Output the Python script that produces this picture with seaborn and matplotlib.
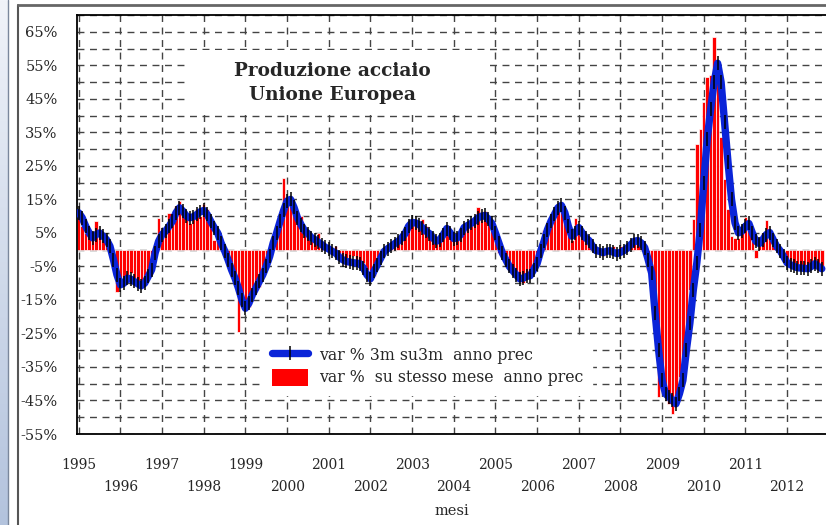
import numpy as np
import pandas as pd
import matplotlib
matplotlib.use("Agg")
import matplotlib.pyplot as plt
import seaborn as sns
from matplotlib.lines import Line2D
from matplotlib.patches import Patch, Rectangle
from matplotlib.ticker import MultipleLocator, FuncFormatter
from matplotlib.colors import LinearSegmentedColormap

# anni sull'asse x (un tick ogni 12 mesi, gen 1995 - nov 2012)
years = list(range(1995, 2013))

# var % su stesso mese anno prec (barre rosse), un valore per mese
red_yoy = [
    10, 7, 5, 5, 3, 8.5, 5, 3, 2, 0.5, -4, -12.5,                     # 1995
    -9, -10, -8, -7, -9, -10.5, -11, -9, -7, -3, 1.2, 9.5,            # 1996
    5, 5, 11, 10, 13, 14.5, 12, 11, 8, 11, 12, 10,                     # 1997
    13.5, 12, 7, 3, 3, 2, -1, -4, -6, -8, -24.5, -14,                  # 1998
    -18, -17, -13, -11, -11, -8, -5, -3, 1, 4, 10, 21.5,               # 1999
    14, 16, 12, 8, 10, 6, 5, 4, 3, 5, 2, 1,                            # 2000
    0.5, -1, 1, -2, -3, -4.5, -3, -2, -3, -5, -4, -6,                  # 2001
    -9.5, -8, -4, -3, 0.5, 1, 2, 1.5, 3, 3.5, 5, 6,                    # 2002
    9, 8, 7, 9, 7, 4, 3, 2.5, 4, 6, 7.5, 3.5,                          # 2003
    3, 4.5, 6, 7.5, 8, 7, 9, 12.6, 10, 11.5, 9, 5.5,                   # 2004
    3, -1, -2, -4, -6, -7.5, -8, -9.5, -10, -8, -8.5, -5,              # 2005
    -2, 2, 6, 7, 9.5, 11, 13.5, 12, 10, 5, 3, 9.5,                     # 2006
    7, 6, 3, 2, 0, 0.5, -1, -2, 0.5, -0.5, 1, -1.5,                    # 2007
    1, -1, 1.5, 2, 3.5, 3, 1, -0.5, -6, -10, -20, -44,                 # 2008
    -40, -43, -46, -49, -45, -38, -32, -25, -12, 9, 31.5, 36,          # 2009
    44, 51.5, 52, 63.5, 54.5, 33.5, 21, 12, 4, 3.6, 3.6, 5,            # 2010
    9.6, 7, 5.7, -2.4, 3, 5, 8.7, 5, 2.7, 1, -1.2, -3,                 # 2011
    -4, -3.5, -5, -6, -5, -6.5, -6, -4, -4.5, -6.5, -5,                # 2012
]

# var % 3m su 3m anno prec (linea blu)
blue_3m = [
    11, 9.5, 7, 5, 3.5, 4.5, 5, 4, 3, 1, -3, -7.5,                     # 1995
    -10.5, -10, -8.5, -8.8, -9.5, -10.2, -10.8, -10, -8, -6, -1, 2.5,  # 1996
    4.5, 5.5, 7, 8.5, 11, 12.5, 11.5, 10, 9.5, 9.8, 10.5, 11.3,        # 1997
    11.7, 10.5, 8.5, 6.6, 5, 2, -0.3, -3, -6, -8.5, -11.5, -15,        # 1998
    -17.5, -16, -13.5, -11.5, -9.5, -7.5, -5, -2, 2, 5, 8.5, 11.7,     # 1999
    14.5, 15, 12.6, 9.5, 7.5, 5.7, 4.8, 3.6, 3, 2.2, 1.5, 0.7,         # 2000
    0.2, -0.5, -1, -2.2, -3, -3.5, -3.7, -3.9, -4, -4.2, -5.5, -7.5,   # 2001
    -8.7, -6.5, -4.5, -2.5, -0.5, 0.3, 1, 1.8, 2.5, 3.5, 4.8, 7,       # 2002
    8.1, 8, 7.5, 6.5, 5.5, 4.8, 3.5, 2.5, 3, 4.5, 6.3, 5,              # 2003
    3.3, 3.5, 4.5, 6.6, 7.2, 7.8, 8.5, 9.5, 10, 10.2, 9, 7.8,          # 2004
    5, 2, -1, -3, -5, -6.3, -7.5, -8.7, -8.5, -8, -7.8, -6,            # 2005
    -4.2, -0.5, 2.5, 6, 8.5, 10.5, 12.5, 13.2, 11, 7, 4, 5,            # 2006
    6.6, 5, 3.5, 2.7, 1, -0.3, -0.5, -0.9, -0.5, -0.3, -0.8, -1.2,     # 2007
    -0.8, -0.3, 0.5, 1.5, 2.5, 2.7, 2, 0.6, -3, -7, -19, -30,          # 2008
    -39, -43, -44, -45, -46, -43, -39, -30, -22, -12, -4, 6,           # 2009
    20, 33, 42, 50, 55.6, 50, 38, 26, 15, 8, 5, 5.5,                   # 2010
    7, 7.8, 5, 2.5, 1.8, 3, 4.5, 5.1, 3, 1, -0.3, -2,                  # 2011
    -3.9, -4.5, -5, -5.4, -5.5, -5.6, -5.7, -5, -4.2, -5, -5.7,        # 2012
]

df = pd.DataFrame({"mese": np.arange(len(red_yoy)), "yoy": red_yoy, "m3": blue_3m})

sns.set_style("white")
plt.rcParams["font.family"] = ["DejaVu Serif"]

W, H = 826, 525
BLUE = "#0a24d8"
fig = plt.figure(figsize=(W / 100, H / 100), dpi=100)

# striscia laterale e cornice
strip = fig.add_axes([0, 0, 8 / W, 1])
cmap = LinearSegmentedColormap.from_list("strip", ["#f0f3f9", "#b3c3dd"])
strip.imshow(np.linspace(0, 1, 200).reshape(-1, 1), aspect="auto", cmap=cmap)
strip.axis("off")
fig.add_artist(Line2D([8 / W, 8 / W], [0, 1], color="#7a879c", lw=1))
fig.add_artist(Line2D([18 / W, 18 / W], [0, 1 - 5 / H], color="#555555", lw=1.5))
fig.add_artist(Line2D([18 / W, 1], [1 - 5 / H, 1 - 5 / H], color="#666666", lw=2))

ax = fig.add_axes([77 / W, 91 / H, 750 / W, 419 / H])

sns.barplot(data=df, x="mese", y="yoy", native_scale=True, color="#ff0000",
            saturation=1, width=1.0, edgecolor="white", linewidth=0.5,
            errorbar=None, ax=ax, zorder=2)
sns.lineplot(data=df, x="mese", y="m3", color=BLUE, lw=5.3, marker="|",
             markersize=10, markeredgecolor="black", markeredgewidth=1.1,
             ax=ax, zorder=3)

ax.set_xlim(-0.5, 215.5)
ax.set_ylim(-55, 70)

ax.yaxis.set_major_locator(MultipleLocator(5))
ax.yaxis.set_minor_locator(MultipleLocator(1))
ax.yaxis.set_major_formatter(FuncFormatter(
    lambda v, p: f"{v:.0f}%" if round(v) % 10 == 5 else ""))
ax.tick_params(axis="y", which="major", direction="in", length=6, width=1,
               pad=14, labelsize=10.5)
ax.tick_params(axis="y", which="minor", direction="in", length=3.5, width=0.8)

xt = [12 * i for i in range(len(years))]
ax.set_xticks(xt)
ax.set_xticklabels([str(y) if i % 2 == 0 else "\n" + str(y) for i, y in enumerate(years)])
for t in ax.get_xticklabels():
    t.set_linespacing(1.75)
ax.xaxis.set_minor_locator(MultipleLocator(1))
ax.tick_params(axis="x", which="both", direction="in", length=7, width=0.8,
               pad=17, labelsize=10)

ax.grid(True, which="major", axis="both", color="#444444", lw=1, ls=(0, (5, 4)))
ax.set_axisbelow(True)

for s in ax.spines.values():
    s.set_color("black")
    s.set_linewidth(1.3)
ax.spines["right"].set_visible(False)

ax.set_xlabel("mesi", fontsize=10.5, labelpad=7)
ax.set_ylabel("")

# riquadro del titolo
ax.add_patch(Rectangle(((188 - 77) / 750, 1 - (112 - 15) / 419), 299 / 750, 62 / 419,
                       transform=ax.transAxes, facecolor="white", edgecolor="none",
                       zorder=1.5))
ax.text((332 - 77) / 750, 1 - (83 - 15) / 419, "Produzione acciaio\nUnione Europea",
        transform=ax.transAxes, ha="center", va="center", fontsize=13.3,
        fontweight="bold", linespacing=1.4, zorder=4)

handles = [
    Line2D([0], [0], color=BLUE, lw=5.3, marker="|", markersize=10,
           markeredgecolor="black", markeredgewidth=1.1),
    Patch(facecolor="#ff0000", edgecolor="none"),
]
labels = ["var % 3m su3m  anno prec", "var %  su stesso mese  anno prec"]
leg = ax.legend(handles, labels, loc="upper left",
                bbox_to_anchor=((263 - 77) / 750, 1 - (338 - 15) / 419),
                frameon=True, fancybox=False, framealpha=1, facecolor="white",
                edgecolor="white", fontsize=11.3, handlelength=2.3,
                handleheight=1.25, labelspacing=0.3, borderaxespad=0,
                borderpad=0.55, handletextpad=0.75)

fig.savefig("out.png", dpi=100)
